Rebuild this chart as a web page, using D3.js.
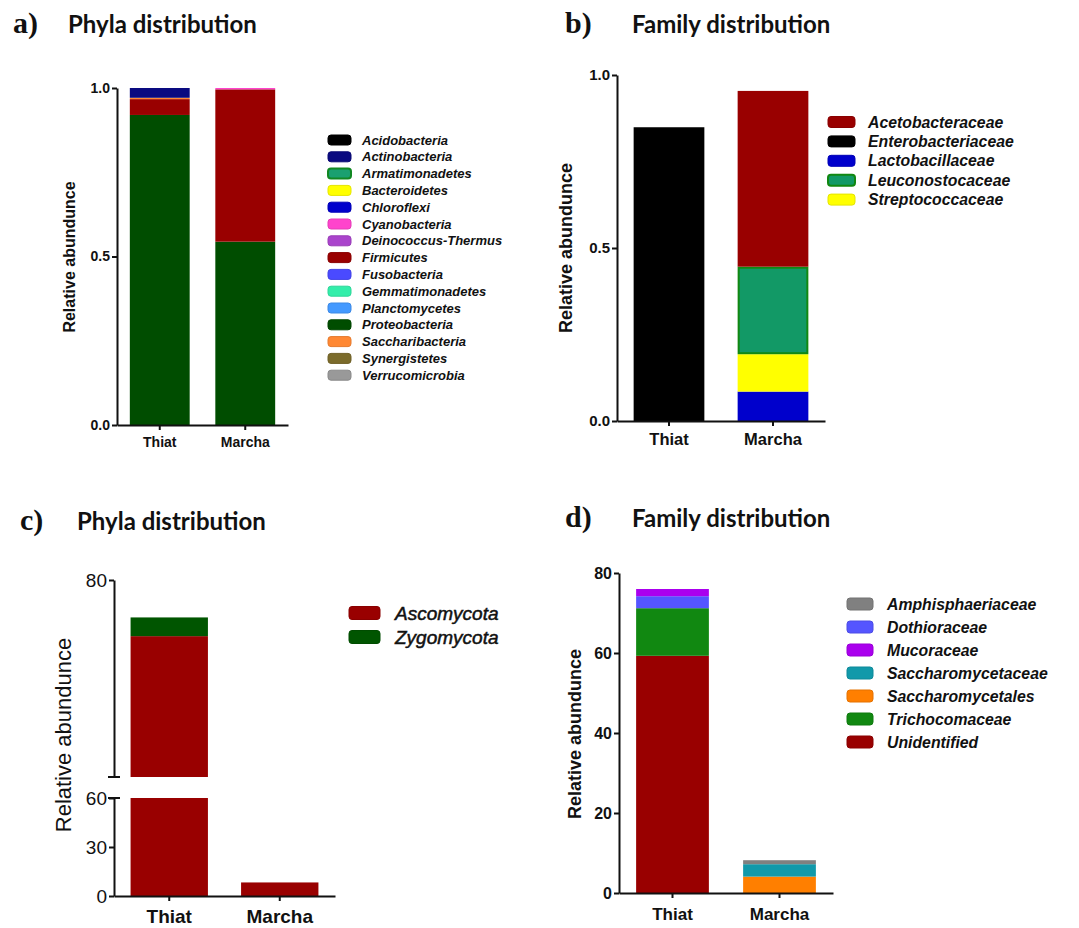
<!DOCTYPE html>
<meta charset="utf-8">
<style>
  body { margin: 0; background: #fff; }
  text { font-family: "Liberation Sans", Arial, sans-serif; fill: #111; }
  .letter { font-family: "Liberation Serif", "Times New Roman", serif; font-weight: bold; font-size: 30px; }
  .title { font-family: Lato, Carlito, sans-serif; font-weight: bold; font-size: 24px; }
</style>
<svg width="1079" height="928"></svg>
<script src="https://d3js.org/d3.v7.min.js"></script>
<script>

var samples = ["Thiat", "Marcha"];

// a) bacterial phyla
var phylaA = ["Acidobacteria", "Actinobacteria", "Armatimonadetes", "Bacteroidetes", "Chloroflexi",
    "Cyanobacteria", "Deinococcus-Thermus", "Firmicutes", "Fusobacteria", "Gemmatimonadetes",
    "Planctomycetes", "Proteobacteria", "Saccharibacteria", "Synergistetes", "Verrucomicrobia"];
var phylaAColors = ["#000000", "#0a0a80", "#1aa070", "#ffff00", "#0000cc", "#ff44cc", "#aa44cc", "#990000",
    "#4a4aff", "#33eeaa", "#4499ff", "#004d00", "#ff8833", "#7b6b2b", "#999999"];
var phylaAThiat  = [0, 0.029, 0, 0, 0, 0, 0, 0.047, 0, 0, 0, 0.920, 0.004, 0, 0];
var phylaAMarcha = [0, 0, 0, 0, 0, 0.004, 0, 0.452, 0, 0, 0, 0.544, 0, 0, 0];
var phylaAStack = ["Proteobacteria", "Firmicutes", "Saccharibacteria", "Actinobacteria", "Cyanobacteria"];
var ticksA = [0, 0.5, 1.0];

// b) bacterial families
var familyB = ["Acetobacteraceae", "Enterobacteriaceae", "Lactobacillaceae", "Leuconostocaceae", "Streptococcaceae"];
var familyBColors = ["#990000", "#000000", "#0000cc", "#129966", "#ffff00"];
var familyBThiat  = [0, 0.849, 0, 0, 0];
var familyBMarcha = [0.508, 0, 0.085, 0.253, 0.108];
var familyBStack = ["Lactobacillaceae", "Streptococcaceae", "Leuconostocaceae", "Acetobacteraceae", "Enterobacteriaceae"];
var ticksB = [0, 0.5, 1.0];

// c) fungal phyla (broken axis)
var phylaC = ["Ascomycota", "Zygomycota"];
var phylaCColors = ["#990000", "#005500"];
var phylaCThiat  = [74.3, 1.9];
var phylaCMarcha = [8.3, 0];
var phylaCStack = ["Ascomycota", "Zygomycota"];
var ticksCLow = [0, 30, 60];
var ticksCHigh = [80];

// d) fungal families
var familyD = ["Amphisphaeriaceae", "Dothioraceae", "Mucoraceae", "Saccharomycetaceae",
    "Saccharomycetales", "Trichocomaceae", "Unidentified"];
var familyDColors = ["#808080", "#5555ff", "#aa00ee", "#1199aa", "#ff7f00", "#118811", "#990000"];
var familyDThiat  = [0, 3.0, 1.8, 0, 0, 11.9, 59.3];
var familyDMarcha = [1.0, 0, 0, 3.1, 4.1, 0, 0];
var familyDStack = ["Saccharomycetales", "Unidentified", "Trichocomaceae", "Saccharomycetaceae",
    "Dothioraceae", "Amphisphaeriaceae", "Mucoraceae"];
var ticksD = [0, 20, 40, 60, 80];

var outlined = {"Armatimonadetes": "#118822", "Leuconostocaceae": "#118811"};

var svg = d3.select("svg");

var panels = [
    {letter: "a)", title: "Phyla distribution", lx: 13, tx: 68, ty: 33,
     names: phylaA, colors: phylaAColors, values: [phylaAThiat, phylaAMarcha], order: phylaAStack,
     x0: 117, x1: 288, pad: 0.3, base: 425,
     segments: [{domain: [0, 1], range: [425, 88], ticks: ticksA}],
     fmt: d3.format(".1f"), tickFont: 14, xFont: 14, xLabelY: 22,
     ylab: {x: 75, y: 257, size: 16, weight: "bold"},
     legend: {x: 328, y: 140, dy: 16.8, w: 23, h: 10, tx: 362, size: 13, weight: "bold"}},
    {letter: "b)", title: "Family distribution", lx: 565, tx: 632, ty: 33,
     names: familyB, colors: familyBColors, values: [familyBThiat, familyBMarcha], order: familyBStack,
     x0: 617, x1: 825, pad: 0.32, base: 421,
     segments: [{domain: [0, 1], range: [421, 75], ticks: ticksB}],
     fmt: d3.format(".1f"), tickFont: 15, xFont: 16.5, xLabelY: 24,
     ylab: {x: 572, y: 248, size: 18, weight: "bold"},
     legend: {x: 828, y: 122, dy: 19.4, w: 27, h: 11, tx: 868, size: 15.8, weight: "bold"}},
    {letter: "c)", title: "Phyla distribution", lx: 20, tx: 77, ty: 530,
     names: phylaC, colors: phylaCColors, values: [phylaCThiat, phylaCMarcha], order: phylaCStack,
     x0: 114, x1: 335, pad: 0.3, base: 896,
     segments: [{domain: [0, 60], range: [896, 798], ticks: ticksCLow, capTop: true},
                {domain: [60, 80], range: [777, 580], ticks: ticksCHigh, capBottom: true}],
     fmt: d3.format("d"), tickFont: 19, tickWeight: "normal", xFont: 19, xLabelY: 27,
     ylab: {x: 71, y: 735, size: 22, weight: "normal"},
     legend: {x: 349, y: 613, dy: 24, w: 31, h: 13, tx: 395, size: 19, weight: "normal", stroke: 0.5}},
    {letter: "d)", title: "Family distribution", lx: 565, tx: 632, ty: 527,
     names: familyD, colors: familyDColors, values: [familyDThiat, familyDMarcha], order: familyDStack,
     x0: 619, x1: 833, pad: 0.32, base: 893,
     segments: [{domain: [0, 80], range: [893, 573], ticks: ticksD}],
     fmt: d3.format("d"), tickFont: 16, xFont: 17, xLabelY: 27,
     ylab: {x: 581, y: 734, size: 18, weight: "bold"},
     legend: {x: 847, y: 604, dy: 23, w: 26, h: 12, tx: 887, size: 15.8, weight: "bold"}}
];

function drawPanel(p) {
    var g = svg.append("g");
    g.append("text").attr("class", "letter").attr("x", p.lx).attr("y", p.ty).text(p.letter);
    g.append("text").attr("class", "title").attr("x", p.tx).attr("y", p.ty).text(p.title);

    var x = d3.scaleBand().domain(samples).range([p.x0, p.x1])
        .paddingInner(p.pad).paddingOuter(p.pad / 2);
    var color = d3.scaleOrdinal().domain(p.names).range(p.colors);

    var rows = samples.map(function(s, i) {
        var r = {sample: s};
        p.names.forEach(function(n, j) { r[n] = p.values[i][j]; });
        return r;
    });
    var layers = d3.stack().keys(p.order)(rows);

    p.segments.forEach(function(seg) {
        var y = d3.scaleLinear().domain(seg.domain).range(seg.range);
        layers.forEach(function(layer) {
            layer.forEach(function(d) {
                var lo = Math.max(d[0], seg.domain[0]),
                    hi = Math.min(d[1], seg.domain[1]);
                if (hi <= lo) return;
                var o = outlined[layer.key];
                g.append("rect")
                    .attr("x", x(d.data.sample) + (o ? 1 : 0))
                    .attr("width", x.bandwidth() - (o ? 2 : 0))
                    .attr("y", y(hi) + (o ? 1 : 0))
                    .attr("height", Math.max(0.8, y(lo) - y(hi) - (o ? 2 : 0)))
                    .attr("fill", color(layer.key))
                    .attr("stroke", o || "none")
                    .attr("stroke-width", o ? 2 : 0);
            });
        });

        var ax = g.append("g")
            .attr("transform", "translate(" + p.x0 + ",0)")
            .call(d3.axisLeft(y).tickValues(seg.ticks).tickFormat(p.fmt)
                .tickSize(5).tickSizeOuter(0).tickPadding(2));
        ax.selectAll("path, line").attr("stroke", "#111").attr("stroke-width", 2);
        ax.selectAll("text")
            .attr("font-family", "Liberation Sans, Arial, sans-serif")
            .attr("font-size", p.tickFont)
            .attr("font-weight", p.tickWeight || "bold")
            .attr("fill", "#111");

        // short caps where the axis is broken
        [seg.capTop ? seg.domain[1] : null, seg.capBottom ? seg.domain[0] : null].forEach(function(v) {
            if (v === null) return;
            g.append("line")
                .attr("x1", p.x0 - 6).attr("x2", p.x0 + 6)
                .attr("y1", y(v)).attr("y2", y(v))
                .attr("stroke", "#111").attr("stroke-width", 2);
        });
    });

    var xa = g.append("g")
        .attr("transform", "translate(0," + p.base + ")")
        .call(d3.axisBottom(x).tickSize(5).tickSizeOuter(0));
    xa.selectAll("path, line").attr("stroke", "#111").attr("stroke-width", 2);
    xa.selectAll("text")
        .attr("y", p.xLabelY).attr("dy", 0)
        .attr("font-family", "Liberation Sans, Arial, sans-serif")
        .attr("font-size", p.xFont)
        .attr("font-weight", "bold")
        .attr("fill", "#111");

    g.append("text")
        .attr("transform", "translate(" + p.ylab.x + "," + p.ylab.y + ") rotate(-90)")
        .attr("text-anchor", "middle")
        .attr("font-size", p.ylab.size)
        .attr("font-weight", p.ylab.weight)
        .text("Relative abundunce");

    var L = p.legend;
    var items = g.selectAll(".legend").data(p.names).enter().append("g")
        .attr("transform", function(d, i) { return "translate(0," + (L.y + i * L.dy) + ")"; });
    items.append("rect")
        .attr("x", L.x).attr("y", -L.h / 2).attr("width", L.w).attr("height", L.h)
        .attr("rx", 3)
        .attr("fill", function(d) { return color(d); })
        .attr("stroke", function(d) { return outlined[d] || d3.color(color(d)).darker(0.3); })
        .attr("stroke-width", function(d) { return outlined[d] ? 2 : 1; });
    items.append("text")
        .attr("x", L.tx).attr("y", 0).attr("dy", "0.35em")
        .attr("font-size", L.size)
        .attr("font-weight", L.weight)
        .attr("font-style", "italic")
        .attr("stroke", L.stroke ? "#111" : null)
        .attr("stroke-width", L.stroke || null)
        .text(function(d) { return d; });
}

panels.forEach(drawPanel);
</script>
